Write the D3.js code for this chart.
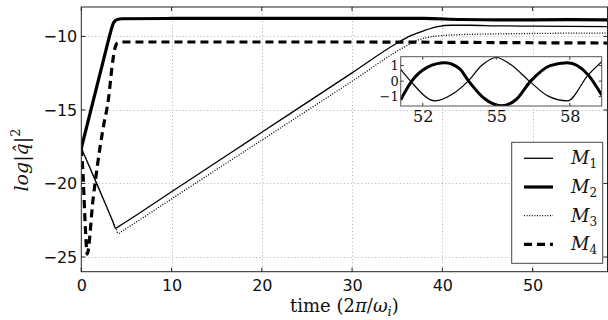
<!DOCTYPE html>
<html>
<head>
<meta charset="utf-8">
<script src="https://cdn.jsdelivr.net/npm/d3@7"></script>
<style>
  html, body { margin: 0; padding: 0; background: #fff; }
  svg { display: block; }
</style>
</head>
<body>
<svg id="chart" width="608" height="320"></svg>
<script>
// ---------- data ----------
const xTicks = [0, 10, 20, 30, 40, 50];
const yTicks = [-25, -20, -15, -10];
const seriesNames = ["1", "2", "3", "4"];

const m1T = [0, 3.5, 3.8, 4.2, 10, 20, 30, 35, 36.5, 38, 39.5, 41, 43, 46, 50, 54, 58.3];
const m1V = [-17.6, -22.6, -23.05, -22.9, -20.56, -16.52, -12.48, -10.45, -9.95, -9.6, -9.33, -9.24, -9.24, -9.28, -9.3, -9.32, -9.33];

const m2T = [0, 2.8, 3.2, 3.6, 4.0, 4.5, 10, 20, 30, 38, 42, 46, 50, 54, 58.3];
const m2V = [-17.6, -10.77, -9.8, -9.05, -8.85, -8.8, -8.78, -8.77, -8.77, -8.78, -8.85, -8.87, -8.87, -8.86, -8.87];

const m3T = [0, 3.8, 4.1, 4.5, 10, 20, 30, 36, 37.5, 39, 40.5, 42, 45, 50, 54, 58.3];
const m3V = [-17.6, -22.98, -23.4, -23.25, -21.05, -17.05, -13.05, -10.65, -10.2, -10.0, -9.92, -9.88, -9.84, -9.8, -9.78, -9.77];

const m4T = [0, 0.2, 0.45, 0.65, 1.3, 2.4, 3.0, 3.5, 3.75, 4.0, 4.5, 10, 20, 30, 40, 50, 58.3];
const m4V = [-17.6, -19.5, -23.0, -24.8, -21.1, -16.3, -14.3, -11.6, -10.75, -10.45, -10.38, -10.38, -10.38, -10.38, -10.4, -10.43, -10.45];

// inset (oscillations, t in 2π/ω_i)
const insetXTicks = [52, 55, 58];
const insetYTicks = [-1, 0, 1];
const in1T = [51.1, 51.5, 52.5, 53.2, 53.85, 54.4, 55.0, 55.6, 56.35, 57.1, 57.9, 58.75, 59.3];
const in1V = [0.75, 0.0, -1.27, -0.85, 0.0, 1.0, 1.52, 1.05, 0.0, -0.95, -1.27, 0.4, 1.25];
const in2T = [51.1, 51.55, 52.2, 52.9, 53.5, 53.85, 54.5, 55.2, 55.8, 56.4, 57.2, 57.9, 58.75, 59.3];
const in2V = [-1.2, 0.0, 0.9, 1.18, 0.8, 0.05, -1.1, -1.59, -1.2, 0.0, 1.0, 1.18, 0.4, -0.9];

// ---------- layout ----------
const svg = d3.select("#chart");
const L = 81.3, R = 607.5, T = 7, B = 271.7;
const x = d3.scaleLinear().domain([0, 58.3]).range([L, R]);
const y = d3.scaleLinear().domain([-26, -8]).range([B, T]);

const styles = {
  "1": { w: 1.3, dash: null },
  "2": { w: 3.2, dash: null },
  "3": { w: 1.3, dash: "1,1.6" },
  "4": { w: 3.2, dash: "8,5" }
};

const mk = (ts, vs) => ts.map((t, i) => ({ t, v: vs[i] }));
const series = [
  { key: "1", data: mk(m1T, m1V) },
  { key: "2", data: mk(m2T, m2V) },
  { key: "3", data: mk(m3T, m3V) },
  { key: "4", data: mk(m4T, m4V) }
];

// grid
const grid = svg.append("g").attr("stroke", "#b0b0b0").attr("stroke-width", 1).attr("stroke-dasharray", "1,2.5");
grid.selectAll("line.gx").data(xTicks.filter(d => d > 0)).join("line")
  .attr("x1", d => Math.round(x(d)) + 0.5).attr("x2", d => Math.round(x(d)) + 0.5)
  .attr("y1", T).attr("y2", B);
grid.selectAll("line.gy").data(yTicks).join("line")
  .attr("y1", d => Math.round(y(d)) + 0.5).attr("y2", d => Math.round(y(d)) + 0.5)
  .attr("x1", L).attr("x2", R);

// clip
svg.append("clipPath").attr("id", "clipMain").append("rect")
  .attr("x", L).attr("y", T).attr("width", R - L).attr("height", B - T);

const line = d3.line().x(d => x(d.t)).y(d => y(d.v)).curve(d3.curveMonotoneX);
const lines = svg.append("g").attr("clip-path", "url(#clipMain)");
series.forEach(s => {
  lines.append("path").datum(s.data)
    .attr("d", line)
    .attr("fill", "none")
    .attr("stroke", "#000")
    .attr("stroke-width", styles[s.key].w)
    .attr("stroke-dasharray", styles[s.key].dash)
    .attr("stroke-linejoin", "round");
});

// axes
const tickFont = "DejaVu Sans, sans-serif";
const xAxis = svg.append("g").attr("transform", `translate(0,${B})`)
  .call(d3.axisBottom(x).tickValues(xTicks).tickSize(0).tickPadding(8).tickFormat(d3.format("d")));
xAxis.select(".domain").remove();
xAxis.selectAll("text").attr("font-family", tickFont).attr("font-size", 16).attr("fill", "#111");

const yAxis = svg.append("g").attr("transform", `translate(${L},0)`)
  .call(d3.axisLeft(y).tickValues(yTicks).tickSize(0).tickPadding(4)
    .tickFormat(d => d < 0 ? "\u2212" + Math.abs(d) : d));
yAxis.select(".domain").remove();
yAxis.selectAll("text").attr("font-family", tickFont).attr("font-size", 16).attr("fill", "#111");

// inward ticks on all sides
const tk = svg.append("g").attr("stroke", "#222").attr("stroke-width", 1);
xTicks.forEach(d => {
  tk.append("line").attr("x1", x(d)).attr("x2", x(d)).attr("y1", B).attr("y2", B - 4);
  tk.append("line").attr("x1", x(d)).attr("x2", x(d)).attr("y1", T).attr("y2", T + 4);
});
yTicks.forEach(d => {
  tk.append("line").attr("y1", y(d)).attr("y2", y(d)).attr("x1", L).attr("x2", L + 4);
  tk.append("line").attr("y1", y(d)).attr("y2", y(d)).attr("x1", R).attr("x2", R - 4);
});

// frame
svg.append("rect").attr("x", L).attr("y", T).attr("width", R - L).attr("height", B - T)
  .attr("fill", "none").attr("stroke", "#222").attr("stroke-width", 1);

// axis labels
const xl = svg.append("text").attr("x", (L + R) / 2).attr("y", 312)
  .attr("text-anchor", "middle").attr("font-family", "DejaVu Serif, serif").attr("font-size", 18).attr("fill", "#111");
xl.append("tspan").text("time (2");
xl.append("tspan").attr("font-style", "italic").text("\u03c0");
xl.append("tspan").text("/");
xl.append("tspan").attr("font-style", "italic").text("\u03c9");
xl.append("tspan").attr("font-style", "italic").attr("font-size", 13).attr("dy", 4).text("i");
xl.append("tspan").attr("dy", -4).text(")");

const yl = svg.append("text").attr("transform", "translate(28,160) rotate(-90)")
  .attr("text-anchor", "middle").attr("font-family", "DejaVu Serif, serif").attr("font-size", 19).attr("fill", "#111");
yl.append("tspan").attr("font-style", "italic").text("log");
yl.append("tspan").text("|");
yl.append("tspan").attr("font-style", "italic").text("q\u0302");
yl.append("tspan").text("|");
yl.append("tspan").attr("font-size", 13).attr("dy", -8).text("2");

// ---------- inset ----------
const iL = 400.7, iR = 601.7, iT = 56.7, iB = 106;
const ix = d3.scaleLinear().domain([51.1, 59.3]).range([iL, iR]);
const iy = d3.scaleLinear().domain([-1.6, 1.57]).range([iB, iT]);
svg.append("rect").attr("x", iL).attr("y", iT).attr("width", iR - iL).attr("height", iB - iT)
  .attr("fill", "#fff");
svg.append("clipPath").attr("id", "clipInset").append("rect")
  .attr("x", iL).attr("y", iT).attr("width", iR - iL).attr("height", iB - iT);
const iline = d3.line().x(d => ix(d.t)).y(d => iy(d.v)).curve(d3.curveMonotoneX);
const ig = svg.append("g").attr("clip-path", "url(#clipInset)");
ig.append("path").datum(mk(in1T, in1V)).attr("d", iline)
  .attr("fill", "none").attr("stroke", "#000").attr("stroke-width", 1.2);
ig.append("path").datum(mk(in2T, in2V)).attr("d", iline)
  .attr("fill", "none").attr("stroke", "#000").attr("stroke-width", 3);
const itk = svg.append("g").attr("stroke", "#333").attr("stroke-width", 1);
insetXTicks.forEach(d => {
  itk.append("line").attr("x1", ix(d)).attr("x2", ix(d)).attr("y1", iB).attr("y2", iB - 3);
  itk.append("line").attr("x1", ix(d)).attr("x2", ix(d)).attr("y1", iT).attr("y2", iT + 3);
});
insetYTicks.forEach(d => {
  itk.append("line").attr("y1", iy(d)).attr("y2", iy(d)).attr("x1", iL).attr("x2", iL + 3);
  itk.append("line").attr("y1", iy(d)).attr("y2", iy(d)).attr("x1", iR).attr("x2", iR - 3);
});
svg.append("rect").attr("x", iL).attr("y", iT).attr("width", iR - iL).attr("height", iB - iT)
  .attr("fill", "none").attr("stroke", "#555").attr("stroke-width", 1);
const ixa = svg.append("g").attr("transform", `translate(0,${iB})`)
  .call(d3.axisBottom(ix).tickValues(insetXTicks).tickSize(0).tickPadding(5));
ixa.select(".domain").remove();
ixa.selectAll("text").attr("font-family", "DejaVu Serif, serif").attr("font-size", 16).attr("fill", "#111");
const iya = svg.append("g").attr("transform", `translate(${iL},0)`)
  .call(d3.axisLeft(iy).tickValues(insetYTicks).tickSize(0).tickPadding(2)
    .tickFormat(d => d < 0 ? "\u2212" + Math.abs(d) : d));
iya.select(".domain").remove();
iya.selectAll("text").attr("font-family", "DejaVu Serif, serif").attr("font-size", 13).attr("fill", "#111");

// ---------- legend ----------
const lg = svg.append("g");
lg.append("rect").attr("x", 511.7).attr("y", 142.3).attr("width", 91).attr("height", 121)
  .attr("fill", "#fff").attr("stroke", "#444").attr("stroke-width", 1);
seriesNames.forEach((k, i) => {
  const yy = 158.3 + i * 28.7;
  lg.append("line").attr("x1", 524).attr("x2", 553).attr("y1", yy).attr("y2", yy)
    .attr("stroke", "#000").attr("stroke-width", styles[k].w)
    .attr("stroke-dasharray", styles[k].dash);
  const t = lg.append("text").attr("x", 571).attr("y", yy + 6)
    .attr("font-family", "DejaVu Serif, serif").attr("font-size", 18).attr("fill", "#111");
  t.append("tspan").attr("font-style", "italic").text("M");
  t.append("tspan").attr("font-size", 12).attr("dy", 4).text(k);
});
</script>
</body>
</html>
